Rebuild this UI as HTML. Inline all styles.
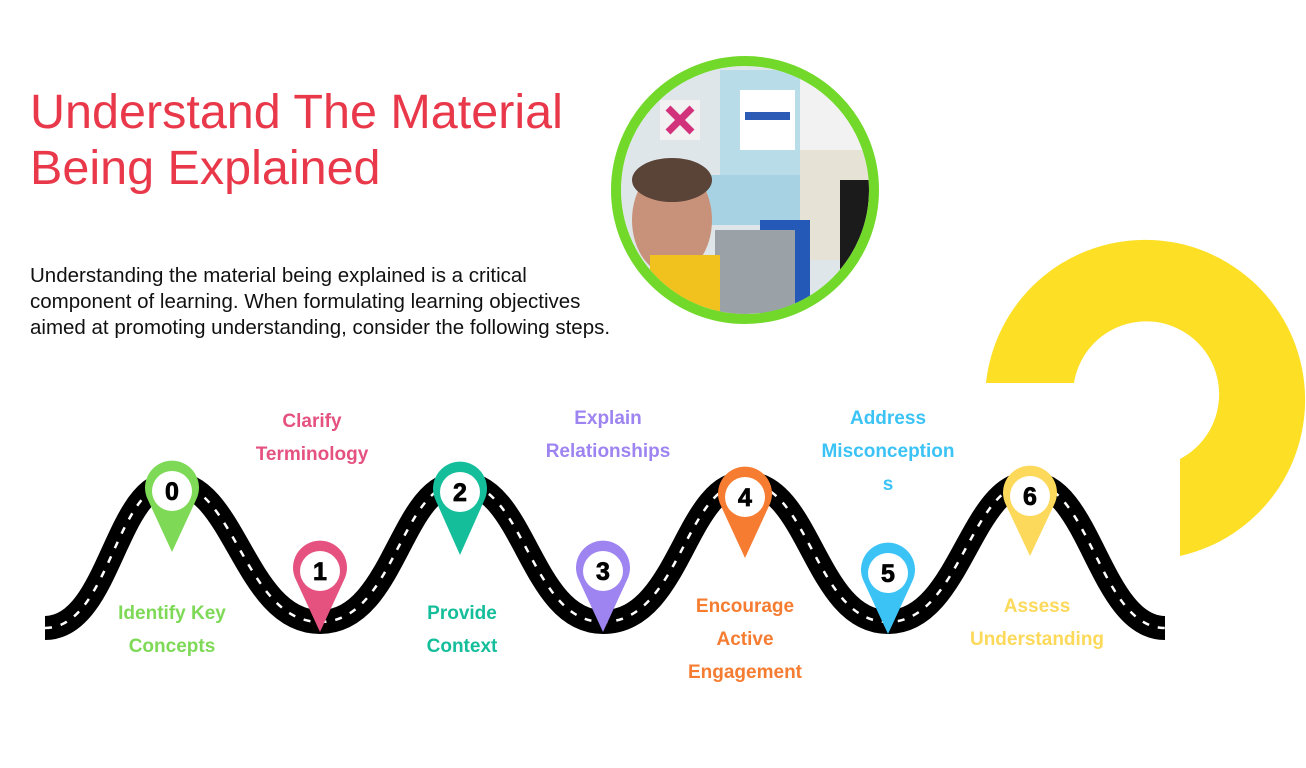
<!DOCTYPE html>
<html><head><meta charset="utf-8"><style>
html,body{margin:0;padding:0;background:#fff;width:1306px;height:768px;overflow:hidden}
body{position:relative;font-family:"Liberation Sans",sans-serif}
.t{position:absolute;left:30px;top:84px;font-size:48.5px;line-height:56px;color:#e8384a}
.p{position:absolute;left:30px;top:263px;font-size:20.5px;line-height:26px;color:#111;white-space:nowrap}
.l{position:absolute;font-weight:bold;font-size:19px;line-height:33px;text-align:center;width:200px;font-family:"Liberation Sans Narrow","Liberation Sans",sans-serif}
</style></head><body>
<div class="t">Understand The Material<br>Being Explained</div>
<div class="p">Understanding the material being explained is a critical<br>component of learning. When formulating learning objectives<br>aimed at promoting understanding, consider the following steps.</div>
<svg width="1306" height="768" style="position:absolute;left:0;top:0">
<defs><clipPath id="c"><circle cx="745" cy="190" r="124"/></clipPath></defs>
<path d="M986,383 A160,160 0 1 1 1180,556 L1180,459 A73,73 0 1 0 1074,383 Z" fill="#fddf25"/>
<g clip-path="url(#c)">
<rect x="600" y="50" width="300" height="300" fill="#dfe6ea"/>
<rect x="800" y="60" width="70" height="190" fill="#f2f2f2"/>
<rect x="790" y="150" width="80" height="110" fill="#e7e2d6"/>
<rect x="840" y="180" width="40" height="150" fill="#1b1b1b"/>
<rect x="720" y="70" width="80" height="110" fill="#b9dde8"/>
<rect x="740" y="90" width="55" height="60" fill="#fff"/>
<rect x="745" y="112" width="45" height="8" fill="#2c5bb5"/>
<rect x="660" y="100" width="40" height="40" fill="#f2f2f2"/>
<path d="M668,108 L692,132 M692,108 L668,132" stroke="#d2317b" stroke-width="7"/>
<rect x="700" y="175" width="100" height="50" fill="#a7d2e3"/>
<rect x="760" y="220" width="50" height="100" fill="#2459b7"/>
<rect x="715" y="230" width="80" height="100" fill="#9aa2a8"/>
<ellipse cx="672" cy="220" rx="40" ry="55" fill="#c8927a"/>
<ellipse cx="672" cy="180" rx="40" ry="22" fill="#5a4337"/>
<rect x="650" y="255" width="70" height="90" fill="#f1c11d"/>
</g>
<circle cx="745" cy="190" r="129" fill="none" stroke="#72d92a" stroke-width="10"/>
<path d="M45,628 C110,628 115,483 172,483 C235,483 245,622 320,622 C395,622 400,483 460,483 C525,483 530,622 603,622 C680,622 685,483 745,483 C810,483 815,622 888,622 C960,622 970,483 1030,483 C1090,483 1100,628 1165,628" fill="none" stroke="#000" stroke-width="24"/>
<path d="M45,628 C110,628 115,483 172,483 C235,483 245,622 320,622 C395,622 400,483 460,483 C525,483 530,622 603,622 C680,622 685,483 745,483 C810,483 815,622 888,622 C960,622 970,483 1030,483 C1090,483 1100,628 1165,628" fill="none" stroke="#fff" stroke-width="2.5" stroke-dasharray="7 9"/>
<g font-family="Liberation Sans" font-weight="bold" font-size="25" text-anchor="middle" stroke="#000" stroke-width="0.8">
<g fill="#7ed957"><path d="M148,500 A27,27 0 1 1 196,500 L172,552 Z" stroke="none"/><circle cx="172" cy="491" r="20" fill="#fff" stroke="none"/><text x="172" y="500" fill="#000">0</text></g>
<g fill="#e5527f"><path d="M296,580 A27,27 0 1 1 344,580 L320,632 Z" stroke="none"/><circle cx="320" cy="571" r="20" fill="#fff" stroke="none"/><text x="320" y="580" fill="#000">1</text></g>
<g fill="#15be9a"><path d="M436,501 A27,27 0 1 1 484,501 L460,555 Z" stroke="none"/><circle cx="460" cy="492" r="20" fill="#fff" stroke="none"/><text x="460" y="501" fill="#000">2</text></g>
<g fill="#9d84f0"><path d="M579,580 A27,27 0 1 1 627,580 L603,632 Z" stroke="none"/><circle cx="603" cy="571" r="20" fill="#fff" stroke="none"/><text x="603" y="580" fill="#000">3</text></g>
<g fill="#f57c30"><path d="M721,506 A27,27 0 1 1 769,506 L745,558 Z" stroke="none"/><circle cx="745" cy="497" r="20" fill="#fff" stroke="none"/><text x="745" y="506" fill="#000">4</text></g>
<g fill="#3cc3f5"><path d="M864,582 A27,27 0 1 1 912,582 L888,634 Z" stroke="none"/><circle cx="888" cy="573" r="20" fill="#fff" stroke="none"/><text x="888" y="582" fill="#000">5</text></g>
<g fill="#fcd95a"><path d="M1006,505 A27,27 0 1 1 1054,505 L1030,556 Z" stroke="none"/><circle cx="1030" cy="496" r="20" fill="#fff" stroke="none"/><text x="1030" y="505" fill="#000">6</text></g>
</g>
</svg>
<div class="l" style="left:72px;top:597px;color:#7ed957">Identify Key<br>Concepts</div>
<div class="l" style="left:212px;top:405px;color:#e5527f">Clarify<br>Terminology</div>
<div class="l" style="left:362px;top:597px;color:#15be9a">Provide<br>Context</div>
<div class="l" style="left:508px;top:402px;color:#9d84f0">Explain<br>Relationships</div>
<div class="l" style="left:645px;top:590px;color:#f57c30">Encourage<br>Active<br>Engagement</div>
<div class="l" style="left:788px;top:402px;color:#3cc3f5">Address<br>Misconception<br>s</div>
<div class="l" style="left:937px;top:590px;color:#fcd95a">Assess<br>Understanding</div>
</body></html>
